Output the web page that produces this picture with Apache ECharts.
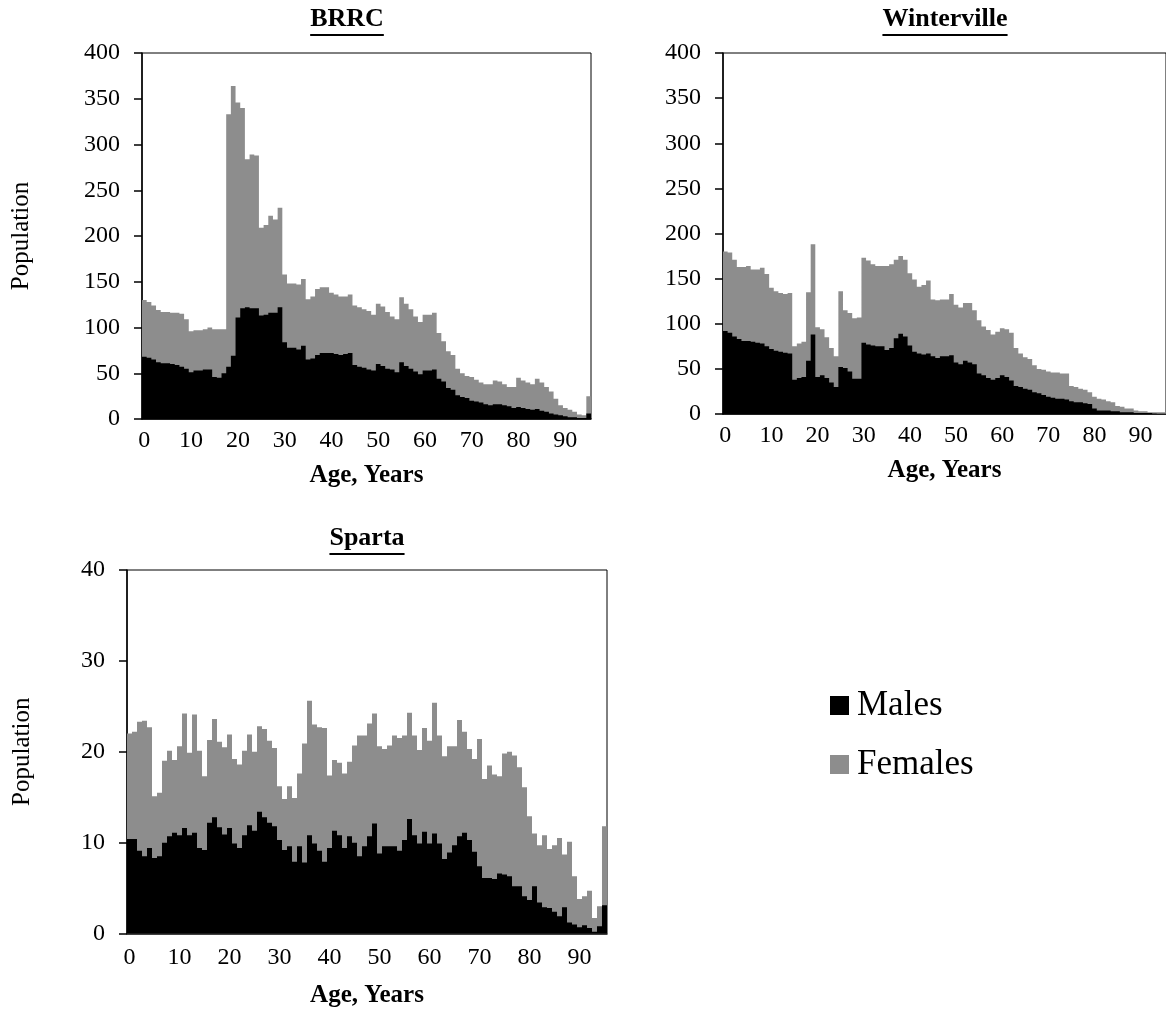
<!DOCTYPE html>
<html>
<head>
<meta charset="utf-8">
<script src="https://cdn.jsdelivr.net/npm/echarts@6/dist/echarts.min.js"></script>
<style>
  html, body { margin: 0; padding: 0; background: #fff; }
  #chart { width: 1166px; height: 1026px; }
</style>
</head>
<body>
<div id="chart"></div>
<script>
// age categories 0..95 (shared by all three panels)
const ages = Array.from({ length: 96 }, (_, i) => String(i));

// BRRC: total population (grey top) and males (black)
const brrcTotal = [
  130, 128, 124, 119, 117, 117, 116, 116, 115, 109,
  96, 97, 97, 98, 100, 98, 98, 98, 333, 364,
  346, 340, 284, 289, 288, 209, 212, 222, 218, 231,
  158, 148, 148, 147, 153, 131, 134, 142, 144, 144,
  138, 136, 134, 134, 136, 124, 122, 120, 118, 114,
  126, 123, 117, 112, 109, 133, 126, 120, 112, 106,
  114, 114, 116, 94, 85, 74, 70, 55, 50, 47,
  46, 43, 40, 38, 38, 42, 41, 38, 35, 35,
  45, 42, 40, 38, 44, 40, 35, 30, 22, 15,
  12, 10, 8, 5, 4, 25,
];
const brrcMales = [
  68, 67, 65, 62, 61, 61, 60, 59, 57, 55,
  51, 53, 53, 54, 54, 46, 45, 50, 57, 69,
  111, 121, 122, 121, 121, 113, 114, 116, 116, 122,
  84, 78, 78, 76, 80, 65, 66, 70, 72, 72,
  72, 71, 70, 71, 72, 59, 57, 56, 54, 53,
  60, 58, 55, 54, 51, 62, 58, 55, 52, 49,
  53, 53, 54, 44, 41, 34, 32, 26, 24, 23,
  20, 19, 18, 16, 15, 16, 16, 15, 14, 12,
  13, 12, 11, 10, 11, 9, 8, 6, 5, 4,
  3, 2, 2, 1, 1, 6,
];

// Winterville
const wvTotal = [
  180, 179, 171, 163, 163, 164, 160, 160, 162, 155,
  140, 136, 134, 133, 134, 75, 78, 80, 135, 188,
  96, 94, 85, 73, 64, 136, 115, 112, 106, 107,
  173, 170, 166, 164, 164, 164, 166, 171, 175, 171,
  156, 149, 141, 143, 148, 127, 126, 127, 127, 133,
  121, 118, 123, 123, 115, 104, 97, 93, 88, 91,
  95, 94, 90, 73, 67, 63, 61, 54, 50, 49,
  47, 46, 46, 45, 45, 31, 30, 28, 27, 24,
  19, 17, 16, 14, 13, 9, 8, 6, 6, 4,
  3, 3, 2, 2, 2, 2,
];
const wvMales = [
  92, 90, 86, 83, 81, 81, 80, 79, 78, 75,
  72, 70, 69, 68, 67, 38, 40, 41, 59, 88,
  41, 43, 40, 35, 30, 52, 51, 47, 39, 39,
  79, 77, 76, 75, 75, 71, 73, 84, 89, 86,
  76, 69, 67, 66, 67, 64, 62, 64, 64, 65,
  57, 55, 59, 57, 55, 45, 43, 40, 38, 40,
  43, 41, 37, 31, 30, 28, 27, 24, 23, 21,
  19, 18, 17, 17, 16, 14, 13, 13, 12, 11,
  6, 4, 4, 4, 3, 3, 2, 2, 2, 1,
  1, 1, 1, 0.5, 0.4, 0.4,
];

// Sparta
const spTotal = [
  22, 22.2, 23.3, 23.4, 22.7, 15.1, 15.5, 19, 20.1, 19.1,
  20.6, 24.2, 19.9, 24.1, 20.1, 17.3, 21.3, 23.6, 21.1, 20.5,
  21.9, 19.2, 18.6, 20.1, 21.9, 20, 22.8, 22.5, 21.2, 20.4,
  16.2, 14.8, 16.2, 14.9, 17.6, 20.9, 25.6, 23, 22.7, 22.6,
  17.4, 19.1, 18.8, 17.6, 18.9, 20.7, 21.8, 21.8, 23.1, 24.2,
  20.6, 20.3, 20.7, 21.8, 21.5, 21.8, 24.3, 21.8, 20.2, 22.6,
  21.2, 25.4, 21.8, 19.5, 20.6, 20.6, 23.5, 22.2, 20.3, 19.2,
  21.4, 17, 18.5, 17.5, 17.3, 19.8, 20, 19.6, 18.3, 16.1,
  12.9, 11, 9.7, 10.8, 9.3, 9.7, 10.5, 8.7, 10.1, 6.3,
  3.8, 4.1, 4.7, 1.7, 3, 11.8,
];
const spMales = [
  10.4, 10.4, 9.1, 8.5, 9.4, 8.3, 8.5, 10, 10.7, 11.1,
  10.8, 11.6, 10.8, 11.1, 9.4, 9.2, 12.2, 12.8, 11.7, 10.9,
  11.6, 9.9, 9.4, 10.8, 11.9, 11.3, 13.4, 12.8, 12.2, 11.8,
  10.3, 9.2, 9.6, 7.9, 9.6, 7.8, 10.8, 9.9, 9.1, 7.9,
  9.4, 11.3, 10.8, 9.4, 10.7, 10, 8.5, 9.6, 10.7, 12.1,
  8.8, 9.6, 9.6, 9.6, 9.1, 10.3, 12.6, 10.8, 9.9, 11.2,
  9.9, 11, 9.9, 8.2, 8.9, 9.7, 10.7, 11.1, 10.3, 9,
  7.4, 6.1, 6.1, 6, 6.6, 6.5, 6.3, 5.2, 5.2, 4.1,
  3.7, 5.2, 3.4, 2.9, 2.8, 2.4, 1.9, 2.9, 1.2, 1,
  0.7, 0.9, 0.6, 0.2, 0.8, 3.1,
];

const panelTitles = ['BRRC', 'Winterville', 'Sparta'];
const yMax = [400, 400, 40];
const yStep = [50, 50, 10];

const SERIF = '"Liberation Serif", "Times New Roman", serif';
const GREY = '#8d8d8d';
const TITLE_SIZE = 26;

const chart = echarts.init(document.getElementById('chart'), null, { renderer: 'canvas' });

function measure(text, font) {
  const ctx = document.createElement('canvas').getContext('2d');
  ctx.font = font;
  return ctx.measureText(text).width;
}

function buildXAxis(gridIndex) {
  const low = gridIndex === 2;
  return {
    type: 'category',
    gridIndex,
    data: ages,
    boundaryGap: true,
    name: 'Age, Years',
    nameLocation: 'middle',
    nameGap: low ? 50 : 44,
    nameTextStyle: { color: '#000', fontFamily: SERIF, fontWeight: 'bold', fontSize: 25 },
    axisLine: { lineStyle: { color: '#000', width: 1.5 } },
    axisTick: { interval: 4, length: 6, lineStyle: { color: '#000', width: 1.5 } },
    axisLabel: { interval: 9, color: '#000', fontFamily: SERIF, fontSize: 24, margin: low ? 12 : 10 },
    splitLine: { show: false },
  };
}

function buildYAxis(gridIndex, withName) {
  return {
    type: 'value',
    gridIndex,
    min: 0,
    max: yMax[gridIndex],
    interval: yStep[gridIndex],
    name: withName ? 'Population' : '',
    nameLocation: 'middle',
    nameGap: gridIndex === 2 ? 92 : 108,
    nameRotate: 90,
    nameTextStyle: { color: '#000', fontFamily: SERIF, fontSize: 25 },
    axisLine: { show: true, lineStyle: { color: '#000', width: 1.5 } },
    axisTick: { show: true, length: 8, lineStyle: { color: '#000', width: 1.5 } },
    axisLabel: { color: '#000', fontFamily: SERIF, fontSize: 24, margin: 22 },
    splitLine: { show: false },
  };
}

// large mode fills all bars of a series as one path, so adjacent
// bars join without anti-aliased seams
function barPair(gridIndex, total, males) {
  const common = {
    type: 'bar',
    xAxisIndex: gridIndex,
    yAxisIndex: gridIndex,
    barWidth: '100%',
    barGap: '-100%',
    large: true,
    largeThreshold: 10,
    silent: true,
    animation: false,
  };
  return [
    { ...common, name: 'Females', data: total, itemStyle: { color: GREY } },
    { ...common, name: 'Males', data: males, itemStyle: { color: '#000' } },
  ];
}

// title anchors (centre x, top y)
const titlePos = [[347, 6], [945, 6], [367, 525]];
const titleFont = 'bold ' + TITLE_SIZE + 'px ' + SERIF;

const underlines = panelTitles.map((t, i) => {
  const w = measure(t, titleFont);
  const [cx, top] = titlePos[i];
  const y = top + 29;
  return {
    type: 'line',
    silent: true,
    shape: { x1: cx - w / 2, y1: y, x2: cx + w / 2, y2: y },
    style: { stroke: '#000', lineWidth: 2 },
  };
});

const gridBox = { show: true, borderColor: '#000', borderWidth: 1, backgroundColor: 'transparent' };

const option = {
  backgroundColor: '#fff',
  animation: false,
  title: panelTitles.map((t, i) => ({
    text: t,
    left: titlePos[i][0],
    top: titlePos[i][1],
    padding: 0,
    textAlign: 'center',
    textStyle: { color: '#000', fontFamily: SERIF, fontWeight: 'bold', fontSize: TITLE_SIZE },
  })),
  legend: {
    data: ['Males', 'Females'],
    orient: 'vertical',
    left: 825,
    top: 683,
    icon: 'rect',
    itemWidth: 19,
    itemHeight: 19,
    itemGap: 24,
    textStyle: { color: '#000', fontFamily: SERIF, fontSize: 35, padding: [0, 0, 0, 3] },
    selectedMode: false,
  },
  grid: [
    { ...gridBox, left: 142, top: 53, width: 449, height: 366 },
    { ...gridBox, left: 723, top: 53, width: 449, height: 361 },
    { ...gridBox, left: 127, top: 570, width: 480, height: 363.5 },
  ],
  xAxis: [buildXAxis(0), buildXAxis(1), buildXAxis(2)],
  yAxis: [buildYAxis(0, true), buildYAxis(1, false), buildYAxis(2, true)],
  series: [
    ...barPair(0, brrcTotal, brrcMales),
    ...barPair(1, wvTotal, wvMales),
    ...barPair(2, spTotal, spMales),
  ],
  graphic: underlines,
};

chart.setOption(option);
</script>
</body>
</html>
